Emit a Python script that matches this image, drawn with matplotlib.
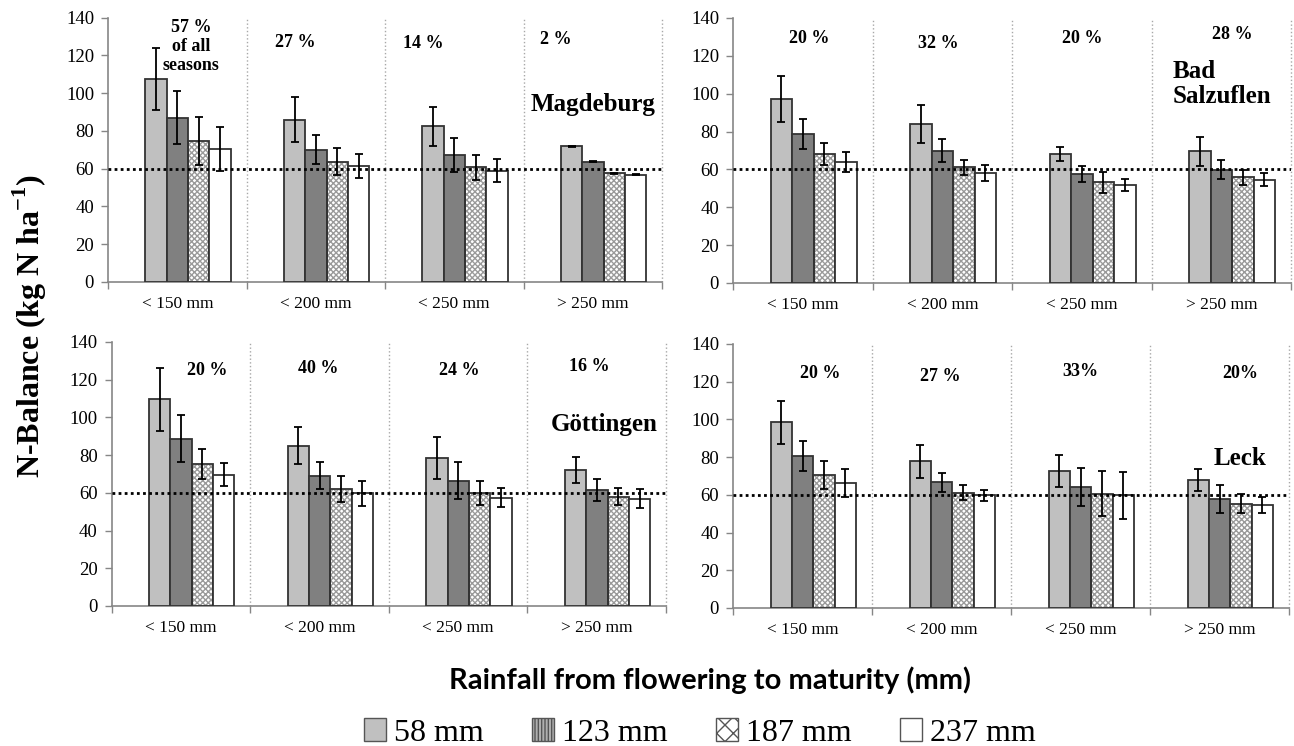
import numpy as np
import matplotlib
matplotlib.use("Agg")
import matplotlib.pyplot as plt
from matplotlib.patches import Patch

plt.rcParams['font.family'] = ['Liberation Serif', 'DejaVu Serif']
plt.rcParams['mathtext.fontset'] = 'custom'
plt.rcParams['mathtext.bf'] = 'Liberation Serif:bold'
plt.rcParams['mathtext.rm'] = 'Liberation Serif'

# ---- donnees ----
categories = ['< 150 mm', '< 200 mm', '< 250 mm', '> 250 mm']
series = ['58 mm', '123 mm', '187 mm', '237 mm']
stations = ['Magdeburg', 'Bad\nSalzuflen', 'Göttingen', 'Leck']

# moyennes [categorie][serie]
magdeburg = [[107.5, 87.0, 74.5, 70.5],
             [86.0, 70.0, 63.7, 61.3],
             [82.4, 67.0, 60.7, 59.0],
             [71.8, 63.7, 57.6, 56.7]]
magdeburg_err = [[16.5, 14.0, 12.8, 11.5],
                 [12.0, 7.6, 7.0, 6.5],
                 [10.4, 9.0, 6.7, 6.2],
                 [0.3, 0.3, 0.3, 0.3]]

bad_salzuflen = [[97.2, 78.7, 68.1, 63.9],
                 [84.0, 69.9, 61.1, 58.1],
                 [68.1, 57.7, 53.2, 51.8],
                 [69.5, 59.9, 55.8, 54.6]]
bad_salzuflen_err = [[12.0, 8.0, 6.0, 5.5],
                     [10.0, 6.0, 4.0, 4.2],
                     [3.9, 4.2, 5.5, 3.2],
                     [7.8, 5.0, 4.0, 3.3]]

goettingen = [[109.6, 88.8, 75.2, 69.7],
              [85.1, 69.2, 62.1, 59.7],
              [78.6, 66.4, 59.7, 57.4],
              [72.0, 61.6, 57.9, 57.0]]
goettingen_err = [[16.8, 12.4, 8.0, 5.9],
                  [9.9, 6.9, 6.9, 6.7],
                  [11.0, 9.7, 6.4, 5.1],
                  [6.9, 5.8, 4.6, 4.8]]

leck = [[98.5, 80.5, 70.4, 66.2],
        [77.7, 66.6, 61.1, 59.7],
        [72.6, 64.1, 60.6, 59.7],
        [67.8, 57.7, 55.4, 54.7]]
leck_err = [[11.3, 7.8, 7.3, 7.4],
            [8.8, 5.1, 3.9, 3.0],
            [8.4, 10.2, 11.8, 12.5],
            [5.8, 7.3, 5.2, 4.4]]

pourcentages = [['57 %\nof all\nseasons', '27 %', '14 %', '2 %'],
                ['20 %', '32 %', '20 %', '28 %'],
                ['20 %', '40 %', '24 %', '16 %'],
                ['20 %', '27 %', '33%', '20%']]

# positions des textes (x en categories, y en kg N/ha)
pct_x = [[0.60, 1.35, 2.28, 3.23],
         [0.55, 1.47, 2.50, 3.58],
         [0.69, 1.49, 2.51, 3.45],
         [0.63, 1.49, 2.50, 3.65]]
pct_y = [[139, 131.5, 130.5, 133],
         [133.6, 131, 133.6, 136],
         [129.4, 130.4, 129.4, 131.5],
         [128.8, 127.3, 130, 128.8]]
station_pos = [(3.95, 94, 'right'), (3.15, 105, 'left'),
               (3.94, 96.5, 'right'), (3.65, 79.5, 'center')]

donnees = [(magdeburg, magdeburg_err), (bad_salzuflen, bad_salzuflen_err),
           (goettingen, goettingen_err), (leck, leck_err)]

W, H = 1294, 746
# cadres des axes en pixels (gauche, droite, haut, bas)
cadres = [(108, 662, 17.5, 282), (733, 1291, 18, 283),
          (111.7, 666, 342, 606), (733, 1289, 344, 608)]

couleurs = ['#c0c0c0', '#808080', 'white', 'white']
bord = '#333333'
largeur = 0.154
debut = 0.27

fig = plt.figure(figsize=(W / 100, H / 100), dpi=100)

for k, (moy, err) in enumerate(donnees):
    g, d, h, b = cadres[k]
    ax = fig.add_axes([g / W, 1 - b / H, (d - g) / W, (b - h) / H])
    moy = np.array(moy)
    err = np.array(err)
    for s in range(4):
        xs = np.arange(4) + debut + s * largeur + largeur / 2
        if s == 2:
            ax.bar(xs, moy[:, s], width=largeur, color='white', edgecolor='#9a9a9a',
                   hatch='xxxxxx', linewidth=0, zorder=2)
            ax.bar(xs, moy[:, s], width=largeur, fill=False, edgecolor=bord,
                   linewidth=1.3, zorder=3)
        else:
            ax.bar(xs, moy[:, s], width=largeur, color=couleurs[s], edgecolor=bord,
                   linewidth=1.3, zorder=3)
        ax.errorbar(xs, moy[:, s], yerr=err[:, s], fmt='none', ecolor='black',
                    elinewidth=1.3, capsize=3.2, capthick=1.3, zorder=5)

    ax.axhline(60, color='black', linestyle=(0, (1, 1.2)), linewidth=2, zorder=6)
    for sep in range(1, 5):
        ax.plot([sep, sep], [0, 140], color='#a8a8a8', linestyle=':', linewidth=1,
                zorder=1, clip_on=False)

    ax.set_xlim(0, 4)
    ax.set_ylim(0, 140)
    ax.set_yticks(range(0, 141, 20))
    ax.set_xticks(np.arange(4) + 0.5)
    ax.set_xticklabels(categories, fontsize=12.5)
    ax.set_xticks(range(5), minor=True)
    ax.tick_params(axis='x', which='major', length=0, pad=10)
    ax.tick_params(axis='x', which='minor', length=5, color='#868686', width=1)
    ax.tick_params(axis='y', length=5, color='#868686', width=1, labelsize=13.5, pad=5)
    for cote in ['top', 'right']:
        ax.spines[cote].set_visible(False)
    for cote in ['left', 'bottom']:
        ax.spines[cote].set_color('#868686')
        ax.spines[cote].set_linewidth(1.2)
    ax.patch.set_alpha(0)

    for c in range(4):
        ax.text(pct_x[k][c], pct_y[k][c], pourcentages[k][c], ha='center', va='top',
                fontsize=13, fontweight='bold', linespacing=1.15)
    sx, sy, sha = station_pos[k]
    ax.text(sx, sy, stations[k], ha=sha, va='center', fontsize=18,
            fontweight='bold', linespacing=1.1)

fig.text(30 / W, 1 - 326 / H, 'N-Balance (kg N ha$^{\\mathbf{-1}}$)', rotation=90,
         ha='center', va='center', fontsize=23, fontweight='bold')
fig.text(710 / W, 1 - 680 / H, 'Rainfall from flowering to maturity (mm)',
         ha='center', va='center', fontsize=21, fontweight='bold', family='Lato')

poignees = [Patch(facecolor='#c0c0c0', edgecolor='#555555', linewidth=1),
            Patch(facecolor='#b0b0b0', edgecolor='#555555', hatch='|||||', linewidth=1),
            Patch(facecolor='white', edgecolor='#555555', hatch='xx', linewidth=1),
            Patch(facecolor='white', edgecolor='#555555', linewidth=1)]
fig.legend(poignees, series, loc='center', bbox_to_anchor=(700 / W, 1 - 733 / H),
           ncol=4, frameon=False, fontsize=23, handlelength=0.7, handleheight=0.7,
           handletextpad=0.25, columnspacing=1.5, borderaxespad=0, borderpad=0)

fig.savefig('out.png', dpi=100)
